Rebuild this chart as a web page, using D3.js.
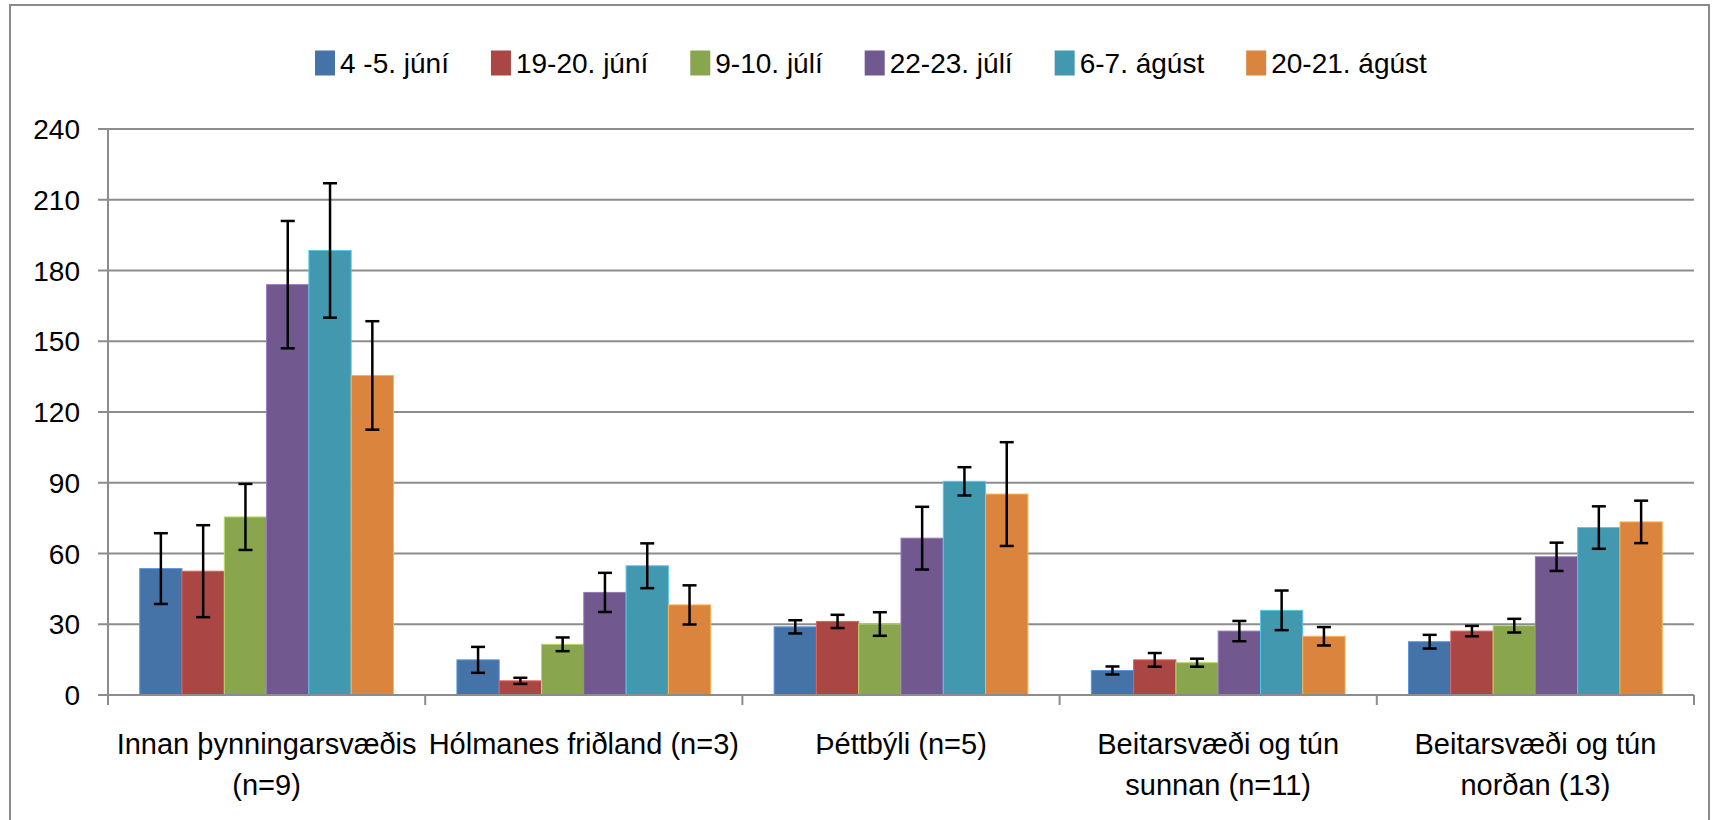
<!DOCTYPE html>
<html>
<head>
<meta charset="utf-8">
<script src="https://cdn.jsdelivr.net/npm/d3@7"></script>
<style>
  html, body { margin: 0; padding: 0; background: #fff; }
  svg text { font-family: "Liberation Sans", Arial, sans-serif; fill: #000; }
</style>
</head>
<body>
<svg id="chart" width="1716" height="820"></svg>
<script>
// flokkar (hver lína merkis sér)
const categories = [
  ["Innan þynningarsvæðis", "(n=9)"],
  ["Hólmanes friðland (n=3)"],
  ["Þéttbýli (n=5)"],
  ["Beitarsvæði og tún", "sunnan (n=11)"],
  ["Beitarsvæði og tún", "norðan (13)"]
];
const seriesNames = ["4 -5. júní", "19-20. júní", "9-10. júlí", "22-23. júlí", "6-7. ágúst", "20-21. ágúst"];
const colors = ["#4572A7", "#AA4643", "#89A54E", "#71588F", "#4198AF", "#DB843D"];

// meðaltöl, ein röð á hverja dagsetningu
const v0 = [53.6, 14.9, 28.9, 10.4, 22.6];
const v1 = [52.5, 6.0, 31.2, 14.9, 27.1];
const v2 = [75.5, 21.5, 30.1, 13.7, 29.4];
const v3 = [174, 43.5, 66.5, 27.1, 58.6];
const v4 = [188.5, 54.8, 90.6, 35.9, 71];
const v5 = [135.5, 38.2, 85.2, 24.9, 73.4];
// staðalskekkja
const e0 = [15, 5.5, 2.8, 1.7, 2.9];
const e1 = [19.5, 1.3, 2.8, 2.9, 2.2];
const e2 = [14, 2.9, 5, 1.7, 2.9];
const e3 = [27, 8.3, 13.3, 4.3, 6];
const e4 = [28.5, 9.5, 6, 8.4, 9];
const e5 = [23, 8.3, 22, 3.9, 9];
const yTicks = [0, 30, 60, 90, 120, 150, 180, 210, 240];

const values = [v0, v1, v2, v3, v4, v5];
const errors = [e0, e1, e2, e3, e4, e5];

const svg = d3.select("#chart");
const plotLeft = 108, plotRight = 1694, plotTop = 129, plotBottom = 695;

// ytri rammi
svg.append("rect")
  .attr("x", 10).attr("y", 5).attr("width", 1699).attr("height", 840)
  .attr("fill", "none").attr("stroke", "#8a8a8a").attr("stroke-width", 2);

const x0 = d3.scaleBand().domain(d3.range(categories.length)).range([plotLeft, plotRight]);
const x1 = d3.scaleBand().domain(d3.range(seriesNames.length))
  .range([x0.bandwidth() * 0.1, x0.bandwidth() * 0.9]);
const y = d3.scaleLinear().domain([0, 240]).range([plotBottom, plotTop]);

// hnitalínur
svg.append("g").selectAll("line").data(yTicks).join("line")
  .attr("x1", plotLeft - 10).attr("x2", plotRight)
  .attr("y1", d => y(d)).attr("y2", d => y(d))
  .attr("stroke", "#8c8c8c").attr("stroke-width", 2);

svg.append("line")
  .attr("x1", plotLeft).attr("x2", plotLeft).attr("y1", plotTop).attr("y2", plotBottom)
  .attr("stroke", "#8c8c8c").attr("stroke-width", 2);

svg.append("g").selectAll("text").data(yTicks).join("text")
  .attr("x", 80).attr("y", d => y(d)).attr("dy", "0.36em")
  .attr("text-anchor", "end").style("font-size", "28px")
  .text(d => d);

// x-ás merki
const boundaries = d3.range(categories.length + 1).map(i => i < categories.length ? x0(i) : plotRight);
svg.append("g").selectAll("line").data(boundaries).join("line")
  .attr("x1", d => d).attr("x2", d => d).attr("y1", plotBottom).attr("y2", plotBottom + 10)
  .attr("stroke", "#8c8c8c").attr("stroke-width", 2);

// súlur
const groups = svg.append("g").selectAll("g").data(categories).join("g")
  .attr("transform", (d, i) => `translate(${x0(i)},0)`);

groups.each(function(c, ci) {
  const g = d3.select(this);
  values.forEach((vals, si) => {
    g.append("rect")
      .attr("x", x1(si)).attr("width", x1.bandwidth())
      .attr("y", y(vals[ci])).attr("height", y(0) - y(vals[ci]))
      .attr("fill", colors[si])
      .attr("stroke", d3.color(colors[si]).brighter(0.8)).attr("stroke-width", 1);
  });
  values.forEach((vals, si) => {
    const cx = x1(si) + x1.bandwidth() / 2;
    const hi = y(vals[ci] + errors[si][ci]), lo = y(vals[ci] - errors[si][ci]);
    g.append("line").attr("x1", cx).attr("x2", cx).attr("y1", hi).attr("y2", lo)
      .attr("stroke", "#000").attr("stroke-width", 2.5);
    [hi, lo].forEach(yy => g.append("line")
      .attr("x1", cx - 7).attr("x2", cx + 7).attr("y1", yy).attr("y2", yy)
      .attr("stroke", "#000").attr("stroke-width", 2.5));
  });
});

svg.append("line")
  .attr("x1", plotLeft - 10).attr("x2", plotRight).attr("y1", plotBottom).attr("y2", plotBottom)
  .attr("stroke", "#8c8c8c").attr("stroke-width", 2);

// flokkaheiti
categories.forEach((lines, i) => {
  const cx = x0(i) + x0.bandwidth() / 2;
  lines.forEach((t, li) => {
    svg.append("text")
      .attr("x", cx).attr("y", 744 + li * 41).attr("dy", "0.36em")
      .attr("text-anchor", "middle").style("font-size", "29px")
      .text(t);
  });
});

// skýringar
const legend = svg.append("g");
let lx = 315;
seriesNames.forEach((name, i) => {
  legend.append("rect")
    .attr("x", lx).attr("y", 63 - 12.5).attr("width", 20).attr("height", 25)
    .attr("fill", colors[i]);
  const t = legend.append("text")
    .attr("x", lx + 25).attr("y", 63).attr("dy", "0.36em")
    .style("font-size", "28px").text(name);
  lx += 25 + t.node().getComputedTextLength() + 42;
});
</script>
</body>
</html>
